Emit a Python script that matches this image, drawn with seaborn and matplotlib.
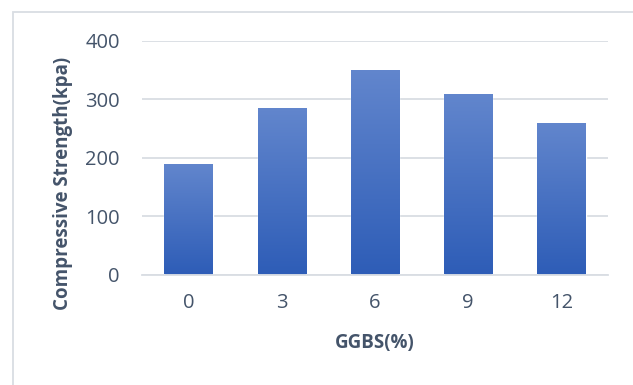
import matplotlib
matplotlib.use("Agg")
import matplotlib.pyplot as plt
import matplotlib.patches as mpatches
from matplotlib.colors import LinearSegmentedColormap
import numpy as np
import pandas as pd
import seaborn as sns

categories = ["0", "3", "6", "9", "12"]
strength = [190, 285, 350, 310, 260]
y_ticks = [0, 100, 200, 300, 400]

sns.set_theme(style="white")
plt.rcParams["font.family"] = ["Open Sans", "DejaVu Sans"]

text_color = "#44546a"
grid_color = "#d9dde3"

df = pd.DataFrame({"GGBS(%)": categories, "Strength": strength})

fig = plt.figure(figsize=(6.33, 3.85), dpi=100)
ax = fig.add_axes([142 / 633, 1 - 274.5 / 385, 466 / 633, 233.5 / 385])

sns.barplot(data=df, x="GGBS(%)", y="Strength", ax=ax, color="#4472c4",
            width=0.52, saturation=1)

# vertical gradient fill inside each bar
cmap = LinearSegmentedColormap.from_list("bar_grad", ["#2e5db7", "#6286cd"])
grad = np.linspace(0, 1, 256).reshape(-1, 1)
for bar in ax.patches:
    x0, y0 = bar.get_x(), bar.get_y()
    w, h = bar.get_width(), bar.get_height()
    im = ax.imshow(grad, cmap=cmap, aspect="auto", origin="lower",
                   extent=[x0, x0 + w, y0, y0 + h], zorder=bar.get_zorder() + 0.1)
    im.set_clip_path(bar)

ax.set_xlim(-0.5, len(categories) - 0.5)
ax.set_ylim(0, 400)
ax.set_yticks(y_ticks)
ax.yaxis.grid(True, color=grid_color, linewidth=1.3)
ax.set_axisbelow(True)
for s in ["top", "right", "left"]:
    ax.spines[s].set_visible(False)
ax.spines["bottom"].set_color(grid_color)
ax.spines["bottom"].set_linewidth(1.3)
ax.tick_params(axis="both", length=0, labelsize=14.5, colors=text_color)
ax.tick_params(axis="x", pad=13)
ax.tick_params(axis="y", pad=16)

ax.set_xlabel("GGBS(%)", fontsize=13.5, fontweight="bold", color=text_color)
ax.set_ylabel("Compressive Strength(kpa)", fontsize=13.5, fontweight="bold",
              color=text_color)
ax.xaxis.set_label_coords(375 / 633, 1 - 343 / 385, transform=fig.transFigure)
ax.yaxis.set_label_coords(63 / 633, 1 - 183 / 385, transform=fig.transFigure)
ax.xaxis.label.set_va("center")
ax.yaxis.label.set_va("center")

# chart area border
fig.patches.append(mpatches.Rectangle((13 / 633, -0.1), 1.2, 1 - 12 / 385 + 0.1,
                                      transform=fig.transFigure, fill=False,
                                      edgecolor=grid_color, linewidth=1.3))

fig.savefig("out.png", dpi=100)
